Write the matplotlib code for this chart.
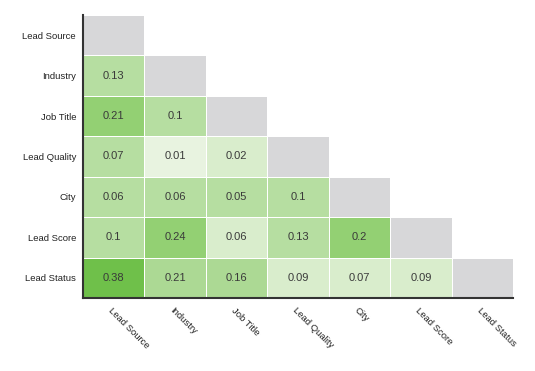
import numpy as np
import matplotlib
matplotlib.use("Agg")
import matplotlib.pyplot as plt
from matplotlib.colors import ListedColormap, BoundaryNorm
import matplotlib.transforms as mtransforms

labels = ["Lead Source", "Industry", "Job Title", "Lead Quality", "City", "Lead Score", "Lead Status"]

# lower-triangle correlation values (row by row, below the diagonal)
row_industry = [0.13]
row_job_title = [0.21, 0.1]
row_lead_quality = [0.07, 0.01, 0.02]
row_city = [0.06, 0.06, 0.05, 0.1]
row_lead_score = [0.1, 0.24, 0.06, 0.13, 0.2]
row_lead_status = [0.38, 0.21, 0.16, 0.09, 0.07, 0.09]

# colour shade level of each cell
shade_industry = [2]
shade_job_title = [4, 2]
shade_lead_quality = [2, 0, 1]
shade_city = [2, 2, 2, 2]
shade_lead_score = [2, 4, 1, 2, 4]
shade_lead_status = [5, 3, 3, 1, 1, 1]

rows_vals = [[], row_industry, row_job_title, row_lead_quality, row_city, row_lead_score, row_lead_status]
rows_shade = [[], shade_industry, shade_job_title, shade_lead_quality, shade_city, shade_lead_score, shade_lead_status]

palette = ["#e8f3e0", "#d9edcc", "#b6dea1", "#acd994", "#93d073", "#6fc04a", "#d7d7d9"]

n = len(labels)
level = np.full((n, n), np.nan)
for i in range(n):
    for j, s in enumerate(rows_shade[i]):
        level[i, j] = s
    level[i, i] = 6
level = np.ma.masked_invalid(level)

fig = plt.figure(figsize=(5.35, 3.71), dpi=100)
ax = fig.add_axes([83/535, 1-298/371, 430/535, 283/371])

cmap = ListedColormap(palette)
norm = BoundaryNorm(np.arange(-0.5, 7.5, 1), cmap.N)
ax.pcolormesh(np.arange(n+1), np.arange(n+1), level, cmap=cmap, norm=norm,
              edgecolors="white", linewidth=0.4)
ax.set_xlim(0, n)
ax.set_ylim(n, 0)

for i in range(n):
    for j, v in enumerate(rows_vals[i]):
        ax.text(j + 0.5, i + 0.5, f"{v:g}", ha="center", va="center",
                fontsize=8, color="#3a3a3a", family="Liberation Sans")

ax.set_yticks(np.arange(n) + 0.5)
ax.set_yticklabels(labels, fontsize=6.8, color="#222222", family="Liberation Sans")
ax.set_xticks(np.arange(n) + 0.5)
ax.set_xticklabels([])
xlab_tr = ax.get_xaxis_transform() + mtransforms.ScaledTranslation(-4/100, -11/100, fig.dpi_scale_trans)
for j, lab in enumerate(labels):
    ax.text(j + 0.5, 0, lab, transform=xlab_tr, fontsize=6.8, color="#222222",
            family="Liberation Sans", rotation=-45, ha="left", va="center",
            rotation_mode="anchor", clip_on=False)
ax.tick_params(axis="y", length=0, pad=5)
ax.tick_params(axis="x", length=0)

for s in ["top", "right"]:
    ax.spines[s].set_visible(False)
for s in ["left", "bottom"]:
    ax.spines[s].set_color("#333333")
    ax.spines[s].set_linewidth(1.5)

fig.savefig("out.png", dpi=100)
